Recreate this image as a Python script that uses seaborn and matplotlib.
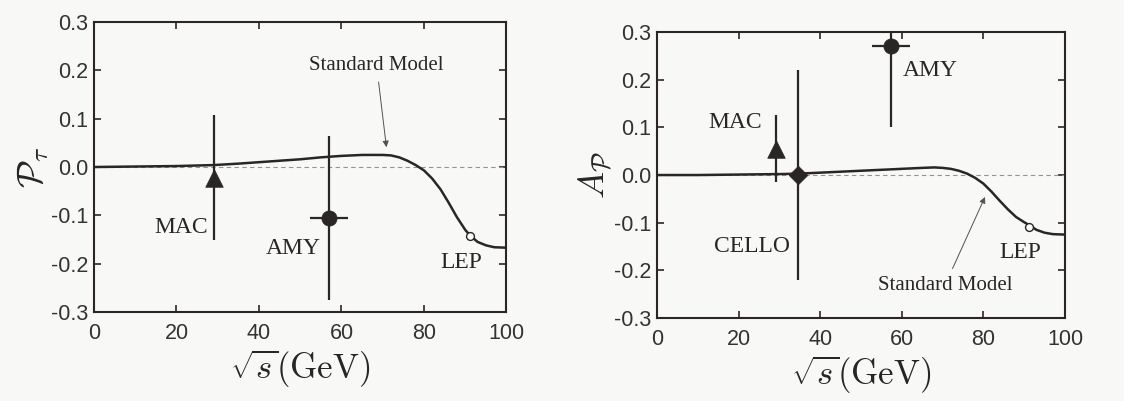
import matplotlib
matplotlib.use("Agg")
import matplotlib.pyplot as plt
import seaborn as sns
import numpy as np
import pandas as pd

# ---------------- data ----------------
# Left panel: tau polarisation P_tau vs sqrt(s)
sm_pol_x = [0, 10, 20, 29, 35, 40, 45, 50, 55, 60, 65, 70, 72, 74, 76, 78, 80,
            82, 84, 86, 88, 90, 91.2, 93, 95, 97, 100]
sm_pol_y = [0.000, 0.001, 0.002, 0.004, 0.007, 0.010, 0.013, 0.016, 0.020, 0.023,
            0.025, 0.025, 0.024, 0.020, 0.013, 0.004, -0.007, -0.024, -0.046,
            -0.074, -0.104, -0.130, -0.142, -0.155, -0.162, -0.166, -0.167]
pol_names = ["MAC", "AMY"]
pol_x = [29.0, 57.0]
pol_y = [-0.022, -0.105]
pol_yerr = [0.13, 0.17]
pol_xerr = [0.0, 4.6]
pol_lep_x = [91.2]
pol_lep_y = [-0.142]

# Right panel: A_P vs sqrt(s)
sm_ap_x = [0, 10, 20, 30, 35, 40, 45, 50, 55, 60, 65, 68, 70, 72, 74, 76, 78, 80,
           82, 84, 86, 88, 90, 91.2, 93, 95, 97, 100]
sm_ap_y = [0.000, 0.000, 0.001, 0.002, 0.003, 0.005, 0.007, 0.009, 0.011, 0.013,
           0.015, 0.016, 0.015, 0.013, 0.009, 0.003, -0.006, -0.018, -0.035,
           -0.054, -0.072, -0.088, -0.099, -0.105, -0.115, -0.121, -0.124, -0.125]
ap_names = ["MAC", "CELLO", "AMY"]
ap_x = [29.2, 34.5, 57.3]
ap_y = [0.055, 0.0, 0.270]
ap_yerr = [0.07, 0.22, 0.17]
ap_xerr = [0.0, 0.0, 4.7]
ap_lep_x = [91.2]
ap_lep_y = [-0.108]

x_ticks = [0, 20, 40, 60, 80, 100]
y_ticks = [-0.3, -0.2, -0.1, 0.0, 0.1, 0.2, 0.3]

# ---------------- style ----------------
sns.set_theme(style="ticks")
BG = "#f8f8f7"
INK = "#2a2626"
plt.rcParams.update({
    "font.family": ["Liberation Sans", "DejaVu Sans"],
    "mathtext.fontset": "cm",
    "axes.unicode_minus": False,
    "figure.facecolor": BG,
    "axes.facecolor": BG,
    "axes.edgecolor": INK,
    "axes.linewidth": 1.5,
    "text.color": INK,
    "xtick.color": INK,
    "ytick.color": INK,
    "xtick.labelcolor": "#333333",
    "ytick.labelcolor": "#333333",
})

fig = plt.figure(figsize=(11.24, 4.01), dpi=100)
axL = fig.add_axes([0.0836, 0.222, 0.367, 0.723])
axR = fig.add_axes([0.5845, 0.207, 0.363, 0.713])

serif = ["Liberation Serif", "DejaVu Serif"]


def setup(ax):
    ax.set_xlim(0, 100)
    ax.set_ylim(-0.3, 0.3)
    ax.set_xticks(x_ticks)
    ax.set_yticks(y_ticks)
    ax.set_yticklabels([f"{v:.1f}" for v in y_ticks])
    ax.set_xticklabels([str(v) for v in x_ticks])
    ax.tick_params(direction="in", top=True, right=True, length=5, width=1.2,
                   labelsize=15.5)
    ax.tick_params(axis="x", pad=8)
    ax.tick_params(axis="y", pad=4)
    for s in ax.spines.values():
        s.set_visible(True)
        s.set_linewidth(1.5)
    ax.axhline(0, color="#9a9090", lw=0.8, ls=(0, (4, 3)), zorder=1)
    ax.set_xlabel(r"$\sqrt{s}(\mathrm{GeV})$", fontsize=25, labelpad=3)


def points(ax, xs, ys, xerr, yerr, markers, sizes):
    ax.errorbar(xs, ys, yerr=yerr, xerr=xerr, fmt="none", ecolor=INK,
                elinewidth=1.6, capsize=0, zorder=3)
    df = pd.DataFrame({"x": xs, "y": ys})
    for i, (m, s) in enumerate(zip(markers, sizes)):
        sns.scatterplot(data=df.iloc[[i]], x="x", y="y", marker=m, s=s, color=INK,
                        edgecolor=INK, linewidth=0.5, ax=ax, zorder=4, legend=False)


# ---------------- left panel ----------------
setup(axL)
sns.lineplot(x=sm_pol_x, y=sm_pol_y, ax=axL, color=INK, lw=1.8, zorder=2)
points(axL, pol_x, pol_y, pol_xerr, pol_yerr, ["^", "o"], [160, 120])
sns.scatterplot(x=pol_lep_x, y=pol_lep_y, ax=axL, marker="o", s=32,
                facecolor="white", edgecolor=INK, linewidth=1.0, zorder=5)
axL.set_ylabel(r"$\mathcal{P}_\tau$", fontsize=26, labelpad=0)
axL.text(27.6, -0.126, "MAC", ha="right", va="center", fontsize=17, family=serif)
axL.text(48.2, -0.168, "AMY", ha="center", va="center", fontsize=17, family=serif)
axL.text(89.1, -0.197, "LEP", ha="center", va="center", fontsize=17, family=serif)
axL.annotate("Standard Model", xy=(70.9, 0.041), xytext=(68.5, 0.211),
             ha="center", va="center", fontsize=15, family=serif,
             arrowprops=dict(arrowstyle="-|>", color="#555050", lw=0.7,
                             mutation_scale=9, shrinkA=3, shrinkB=0))

# ---------------- right panel ----------------
setup(axR)
sns.lineplot(x=sm_ap_x, y=sm_ap_y, ax=axR, color=INK, lw=1.8, zorder=2)
points(axR, ap_x, ap_y, ap_xerr, ap_yerr, ["^", "D", "o"], [160, 90, 120])
sns.scatterplot(x=ap_lep_x, y=ap_lep_y, ax=axR, marker="o", s=32,
                facecolor="white", edgecolor=INK, linewidth=1.0, zorder=5)
axR.set_ylabel(r"$A_{\mathcal{P}}$", fontsize=26, labelpad=0)
axR.text(19.1, 0.111, "MAC", ha="center", va="center", fontsize=17, family=serif)
axR.text(23.2, -0.151, "CELLO", ha="center", va="center", fontsize=17, family=serif)
axR.text(66.9, 0.22, "AMY", ha="center", va="center", fontsize=17, family=serif)
axR.text(89.0, -0.162, "LEP", ha="center", va="center", fontsize=17, family=serif)
axR.annotate("Standard Model", xy=(80.4, -0.046), xytext=(70.6, -0.231),
             ha="center", va="center", fontsize=15, family=serif,
             arrowprops=dict(arrowstyle="-|>", color="#555050", lw=0.7,
                             mutation_scale=9, shrinkA=3, shrinkB=0))

fig.savefig("out.png", dpi=100, facecolor=BG)
